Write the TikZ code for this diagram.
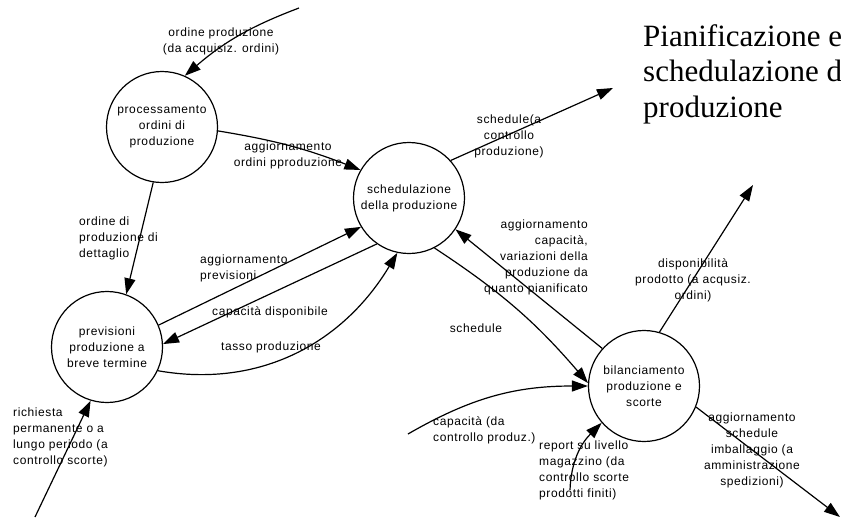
\documentclass[tikz,border=0pt]{standalone}
\usepackage{fontspec}
\setmainfont{Liberation Serif}
\newfontfamily\dfdfont[LetterSpace=5]{Liberation Sans}
\usetikzlibrary{arrows.meta}

\begin{document}
\begin{tikzpicture}[x=1pt, y=-1pt,
		process/.style={draw, circle, line width=1.2pt, minimum size=111pt, inner sep=0pt, align=center, font=\dfdfont\fontsize{12}{16}\selectfont},
		flow/.style={line width=1.2pt, -{Triangle[length=16pt,width=11pt]}},
		lbl/.style={inner sep=0pt, font=\dfdfont\fontsize{12}{16}\selectfont}]
		\useasboundingbox (0,0) rectangle (841,523);
		
		% title
		\node[anchor=north west, align=left, inner sep=0pt, font=\fontsize{31}{35.5}\selectfont] (title) at (643,24) {Pianificazione e\\schedulazione d\\produzione};
		
		% processes
		\node[process] (proc) at (162,127) {processamento\\ordini di\\produzione};
		\node[process] (sched) at (409,198) {schedulazione\\della produzione};
		\node[process] (prev) at (107,347) {previsioni\\produzione a\\breve termine};
		\node[process] (bil) at (644,386) {bilanciamento\\produzione e\\scorte};
		
		% outside ends
		\coordinate (ordIn) at (299,8);
		\coordinate (schedOut) at (613,88);
		\coordinate (dispOut) at (753,185);
		\coordinate (imbOut) at (840,517);
		\coordinate (capIn) at (408,434);
		\coordinate (repIn) at (570,490);
		\coordinate (ricIn) at (35,517);
		
		% flows
		\draw[flow] (ordIn) to[bend right=10] (proc.66);
		\draw[flow] (proc.-4) to[bend left=6] (sched.150);
		\draw[flow] (proc.-99) -- (prev.70);
		\draw[flow] (prev.23) -- (sched.211);
		\draw[flow] (sched.235) -- (prev.3);
		\draw[flow] (prev.-25) to[out=-10,in=-121] (sched.258);
		\draw[flow] (sched.42) -- (schedOut);
		\draw[flow] (bil.138) -- (sched.-34);
		\draw[flow] (sched.-63) to[bend left=8] (bil.177);
		\draw[flow] (capIn) to[out=30,in=180] (bil.180);
		\draw[flow] (repIn) to[out=88,in=-135] (bil.221);
		\draw[flow] (bil.74) -- (dispOut);
		\draw[flow] (bil.-22) -- (imbOut);
		\draw[flow] (ricIn) -- (prev.253);
		
		% flow labels
		\node[lbl, align=center] (ordLbl) at (221,41) {ordine produzione\\(da acquisiz. ordini)};
		\node[lbl, align=center] (aggOrdLbl) at (288,155) {aggiornamento\\ordini pproduzione};
		\node[lbl, align=left, anchor=west] (detLbl) at (79,238) {ordine di\\produzione di\\dettaglio};
		\node[lbl, align=left, anchor=west] (aggPrevLbl) at (200,268) {aggiornamento\\previsioni};
		\node[lbl] (capDispLbl) at (270,312) {capacità disponibile};
		\node[lbl] (tassoLbl) at (271,347) {tasso produzione};
		\node[lbl, align=center] (schedOutLbl) at (509,136) {schedule(a\\controllo\\produzione)};
		\node[lbl, align=right, anchor=east] (aggCapLbl) at (588,257) {aggiornamento\\capacità,\\variazioni della\\produzione da\\quanto pianificato};
		\node[lbl] (schedLbl) at (476,328) {schedule};
		\node[lbl, align=left, anchor=west] (capInLbl) at (433,430) {capacità (da\\controllo produz.)};
		\node[lbl, align=left, anchor=west] (repLbl) at (539,470) {report su livello\\magazzino (da\\controllo scorte\\prodotti finiti)};
		\node[lbl, align=center] (dispLbl) at (693,280) {disponibilità\\prodotto (a acqusiz.\\ordini)};
		\node[lbl, align=center] (imbLbl) at (752,450) {aggiornamento\\schedule\\imballaggio (a\\amministrazione\\spedizioni)};
		\node[lbl, align=left, anchor=west] (ricLbl) at (13,437) {richiesta\\permanente o a\\lungo periodo (a\\controllo scorte)};
		
\end{tikzpicture}
\end{document}
